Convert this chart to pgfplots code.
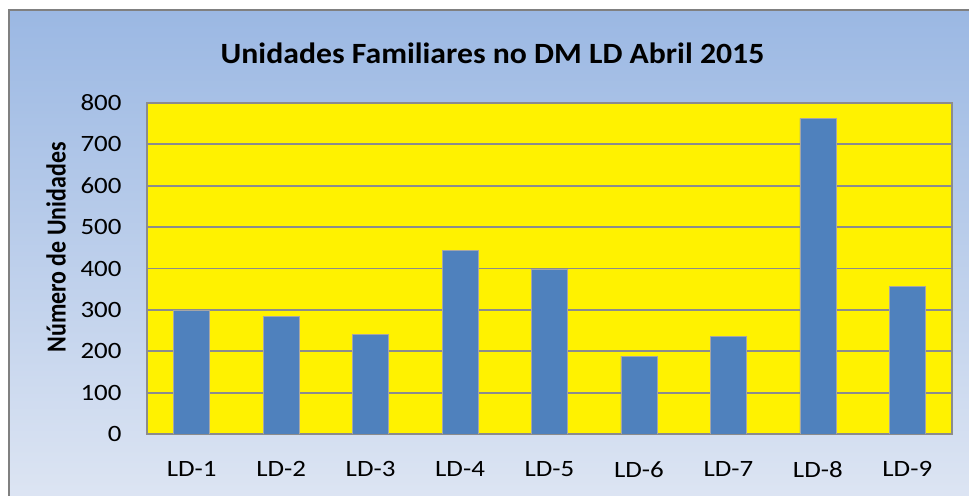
\documentclass[border=0pt]{standalone}
\usepackage{pgfplots}
\pgfplotsset{compat=1.18}
\usepackage{fontspec}
\setmainfont{Carlito}
\definecolor{bgtop}{RGB}{155,184,227}
\definecolor{bgbot}{RGB}{221,229,243}
\definecolor{barblue}{RGB}{79,129,189}
\definecolor{gridgray}{RGB}{140,140,140}
\begin{document}
\begin{tikzpicture}[x=1bp,y=1bp]
\clip (0,0) rectangle (969,496);
\fill[white] (0,0) rectangle (969,496);
\shade[top color=bgtop, bottom color=bgbot] (9,-5) rectangle (975,486);
\draw[gray, line width=2bp] (9,-5) -- (9,486) -- (975,486);
\node[font=\fontsize{29.5}{34}\selectfont\bfseries, xscale=1.08] at (492.5,443) {Unidades Familiares no DM LD Abril 2015};
\node[font=\fontsize{24}{28}\selectfont\bfseries, xscale=1.15, rotate=90] at (56,248.5) {Número de Unidades};
\begin{axis}[
  at={(147bp,62bp)}, anchor=south west,
  width=805bp, height=331bp, scale only axis,
  xmin=0.5, xmax=9.5, ymin=0, ymax=800,
  xtick={1,...,9},
  xticklabels={LD-1,LD-2,LD-3,LD-4,LD-5,LD-6,LD-7,LD-8,LD-9},
  ytick={0,100,...,800},
  ymajorgrids,
  grid style={gridgray, line width=1.8bp},
  axis line style={gridgray, line width=1.8bp},
  axis background/.style={fill=yellow},
  major tick length=0pt,
  /pgf/number format/assume math mode=true,
  tick label style={font=\fontsize{23.5}{27}\selectfont, xscale=1.15, inner sep=0pt},
  yticklabel style={anchor=east, xshift=-22bp},
  xticklabel style={anchor=north, yshift=-27bp},
  ybar, bar width=36bp,
]
\addplot[fill=barblue, draw=gray!70, line width=0.6bp] coordinates {
(1,298) (2,285) (3,241) (4,444) (5,399) (6,188) (7,236) (8,763) (9,357)
};
\end{axis}
\end{tikzpicture}
\end{document}
